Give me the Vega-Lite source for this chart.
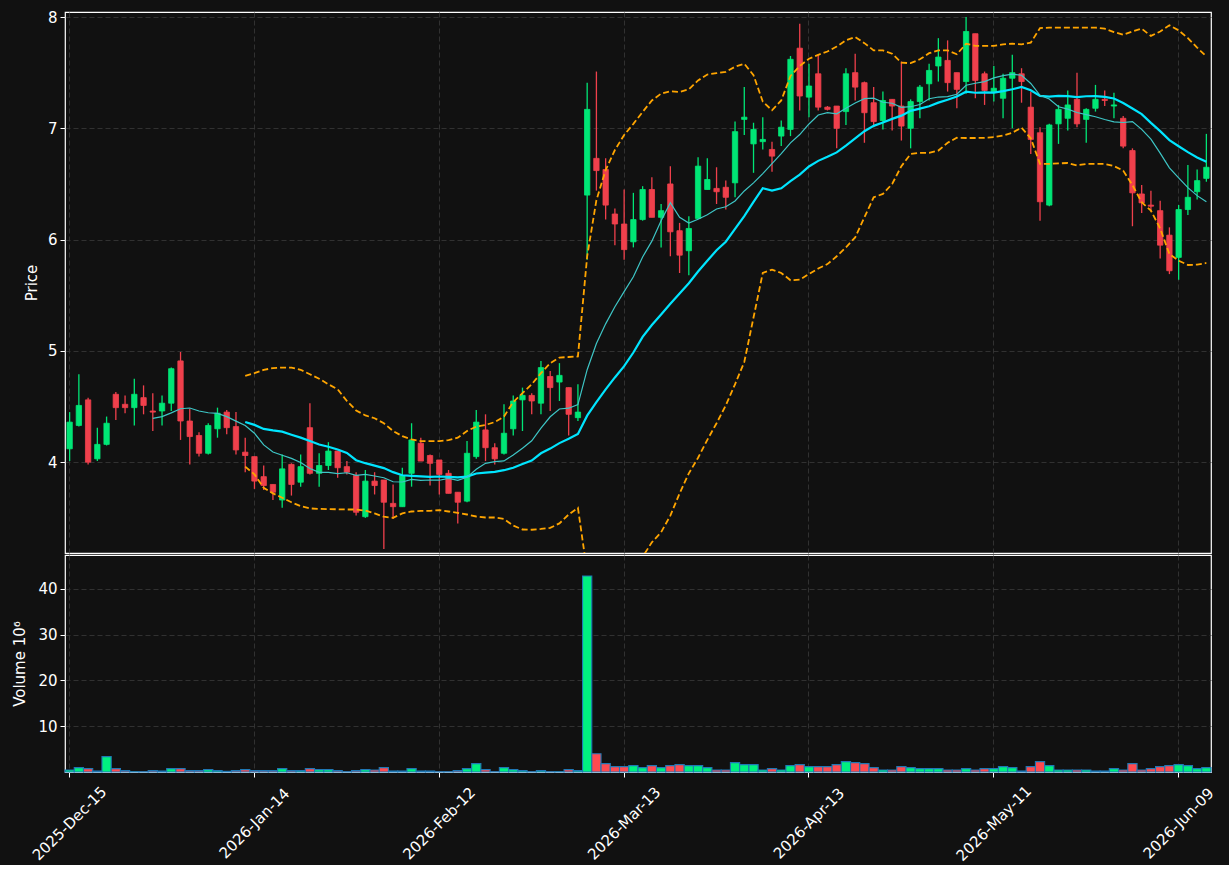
{
"$schema": "https://vega.github.io/schema/vega-lite/v6.json",
"background": "#111111",
"padding": {"left": 11, "top": 9, "right": 17, "bottom": 0},
"datasets": {"ohlc": [
{"d":"2025-12-15","o":4.12,"h":4.45,"l":4.01,"c":4.36,"v":0.44},
{"d":"2025-12-16","o":4.33,"h":4.79,"l":4.32,"c":4.51,"v":0.95},
{"d":"2025-12-17","o":4.56,"h":4.58,"l":3.98,"c":4.0,"v":0.73},
{"d":"2025-12-18","o":4.03,"h":4.31,"l":4.01,"c":4.16,"v":0.22},
{"d":"2025-12-19","o":4.16,"h":4.41,"l":4.15,"c":4.35,"v":3.36},
{"d":"2025-12-22","o":4.61,"h":4.63,"l":4.38,"c":4.49,"v":0.73},
{"d":"2025-12-23","o":4.52,"h":4.6,"l":4.44,"c":4.49,"v":0.29},
{"d":"2025-12-24","o":4.49,"h":4.75,"l":4.33,"c":4.61,"v":0.07},
{"d":"2025-12-26","o":4.58,"h":4.69,"l":4.43,"c":4.51,"v":0.07},
{"d":"2025-12-29","o":4.46,"h":4.62,"l":4.28,"c":4.45,"v":0.29},
{"d":"2025-12-30","o":4.46,"h":4.6,"l":4.33,"c":4.53,"v":0.22},
{"d":"2025-12-31","o":4.53,"h":4.85,"l":4.46,"c":4.84,"v":0.73},
{"d":"2026-01-02","o":4.91,"h":4.99,"l":4.2,"c":4.37,"v":0.73},
{"d":"2026-01-05","o":4.37,"h":4.48,"l":3.98,"c":4.23,"v":0.29},
{"d":"2026-01-06","o":4.24,"h":4.27,"l":4.05,"c":4.08,"v":0.29},
{"d":"2026-01-07","o":4.08,"h":4.35,"l":4.07,"c":4.33,"v":0.51},
{"d":"2026-01-08","o":4.3,"h":4.49,"l":4.22,"c":4.44,"v":0.29},
{"d":"2026-01-09","o":4.45,"h":4.47,"l":4.25,"c":4.31,"v":0.15},
{"d":"2026-01-12","o":4.32,"h":4.45,"l":4.07,"c":4.11,"v":0.29},
{"d":"2026-01-13","o":4.09,"h":4.22,"l":3.91,"c":4.06,"v":0.51,"bu":4.775,"bl":3.96},
{"d":"2026-01-14","o":4.05,"h":4.05,"l":3.76,"c":3.83,"v":0.29,"bu":4.8,"bl":3.89},
{"d":"2026-01-15","o":3.87,"h":3.97,"l":3.75,"c":3.79,"v":0.29,"bu":4.83,"bl":3.77},
{"d":"2026-01-16","o":3.8,"h":3.8,"l":3.66,"c":3.73,"v":0.29,"bu":4.845,"bl":3.72},
{"d":"2026-01-20","o":3.66,"h":4.07,"l":3.59,"c":3.94,"v":0.73,"bu":4.85,"bl":3.68},
{"d":"2026-01-21","o":3.98,"h":3.99,"l":3.7,"c":3.8,"v":0.29,"bu":4.85,"bl":3.64},
{"d":"2026-01-22","o":3.82,"h":4.07,"l":3.78,"c":3.96,"v":0.29,"bu":4.83,"bl":3.605},
{"d":"2026-01-23","o":4.31,"h":4.53,"l":3.89,"c":3.9,"v":0.73,"bu":4.79,"bl":3.585},
{"d":"2026-01-26","o":3.9,"h":4.08,"l":3.78,"c":3.97,"v":0.51,"bu":4.75,"bl":3.58},
{"d":"2026-01-27","o":3.97,"h":4.18,"l":3.93,"c":4.1,"v":0.51,"bu":4.7,"bl":3.578},
{"d":"2026-01-28","o":4.1,"h":4.1,"l":3.86,"c":3.95,"v":0.29,"bu":4.655,"bl":3.577},
{"d":"2026-01-29","o":3.96,"h":4.01,"l":3.89,"c":3.91,"v":0.07,"bu":4.55,"bl":3.575},
{"d":"2026-01-30","o":3.88,"h":3.91,"l":3.52,"c":3.55,"v":0.29,"bu":4.465,"bl":3.575},
{"d":"2026-02-02","o":3.51,"h":3.93,"l":3.5,"c":3.83,"v":0.51,"bu":4.42,"bl":3.565},
{"d":"2026-02-03","o":3.83,"h":3.91,"l":3.71,"c":3.79,"v":0.44,"bu":4.395,"bl":3.54},
{"d":"2026-02-04","o":3.84,"h":3.84,"l":3.22,"c":3.64,"v":0.95,"bu":4.35,"bl":3.51},
{"d":"2026-02-05","o":3.63,"h":3.8,"l":3.49,"c":3.6,"v":0.22,"bu":4.28,"bl":3.5},
{"d":"2026-02-06","o":3.6,"h":3.95,"l":3.6,"c":3.88,"v":0.22,"bu":4.234,"bl":3.54},
{"d":"2026-02-09","o":3.9,"h":4.35,"l":3.78,"c":4.2,"v":0.73,"bu":4.205,"bl":3.557},
{"d":"2026-02-10","o":4.17,"h":4.22,"l":4.01,"c":4.01,"v":0.22,"bu":4.19,"bl":3.563},
{"d":"2026-02-11","o":4.06,"h":4.07,"l":3.79,"c":3.99,"v":0.22,"bu":4.19,"bl":3.563},
{"d":"2026-02-12","o":4.02,"h":4.02,"l":3.71,"c":3.89,"v":0.07,"bu":4.19,"bl":3.57},
{"d":"2026-02-13","o":3.9,"h":3.93,"l":3.72,"c":3.72,"v":0.07,"bu":4.198,"bl":3.557},
{"d":"2026-02-17","o":3.73,"h":3.73,"l":3.45,"c":3.64,"v":0.29,"bu":4.22,"bl":3.545},
{"d":"2026-02-18","o":3.65,"h":4.19,"l":3.64,"c":4.08,"v":0.73,"bu":4.28,"bl":3.53},
{"d":"2026-02-19","o":4.05,"h":4.47,"l":4.03,"c":4.36,"v":1.82,"bu":4.32,"bl":3.512},
{"d":"2026-02-20","o":4.29,"h":4.43,"l":4.01,"c":4.13,"v":0.51,"bu":4.335,"bl":3.503},
{"d":"2026-02-23","o":4.13,"h":4.17,"l":3.98,"c":4.03,"v":0.07,"bu":4.36,"bl":3.503},
{"d":"2026-02-24","o":4.08,"h":4.52,"l":4.07,"c":4.26,"v":0.95,"bu":4.41,"bl":3.49},
{"d":"2026-02-25","o":4.3,"h":4.6,"l":4.24,"c":4.55,"v":0.51,"bu":4.54,"bl":3.43},
{"d":"2026-02-26","o":4.56,"h":4.67,"l":4.28,"c":4.6,"v":0.29,"bu":4.62,"bl":3.395},
{"d":"2026-02-27","o":4.6,"h":4.62,"l":4.43,"c":4.55,"v":0.07,"bu":4.7,"bl":3.393},
{"d":"2026-03-02","o":4.53,"h":4.91,"l":4.43,"c":4.85,"v":0.29,"bu":4.8,"bl":3.4},
{"d":"2026-03-03","o":4.77,"h":4.82,"l":4.46,"c":4.67,"v":0.07,"bu":4.89,"bl":3.41},
{"d":"2026-03-04","o":4.72,"h":4.89,"l":4.55,"c":4.78,"v":0.07,"bu":4.94,"bl":3.45},
{"d":"2026-03-05","o":4.67,"h":4.67,"l":4.24,"c":4.43,"v":0.51,"bu":4.945,"bl":3.53},
{"d":"2026-03-06","o":4.4,"h":4.7,"l":4.37,"c":4.45,"v":0.29,"bu":4.95,"bl":3.59},
{"d":"2026-03-09","o":6.4,"h":7.41,"l":5.82,"c":7.17,"v":42.8,"bu":5.85,"bl":3.01},
{"d":"2026-03-10","o":6.73,"h":7.51,"l":6.44,"c":6.62,"v":4.0,"bu":6.355,"bl":2.78},
{"d":"2026-03-11","o":6.63,"h":6.73,"l":6.18,"c":6.31,"v":1.82,"bu":6.625,"bl":2.72},
{"d":"2026-03-12","o":6.23,"h":6.28,"l":5.95,"c":6.14,"v":1.17,"bu":6.805,"bl":2.75},
{"d":"2026-03-13","o":6.14,"h":6.45,"l":5.82,"c":5.91,"v":1.17,"bu":6.94,"bl":2.82},
{"d":"2026-03-16","o":5.98,"h":6.42,"l":5.93,"c":6.18,"v":1.39,"bu":7.04,"bl":2.97},
{"d":"2026-03-17","o":6.18,"h":6.48,"l":6.17,"c":6.45,"v":0.95,"bu":7.147,"bl":3.15},
{"d":"2026-03-18","o":6.45,"h":6.56,"l":6.2,"c":6.2,"v":1.39,"bu":7.25,"bl":3.28},
{"d":"2026-03-19","o":6.2,"h":6.32,"l":5.93,"c":6.26,"v":0.95,"bu":7.312,"bl":3.37},
{"d":"2026-03-20","o":6.5,"h":6.66,"l":5.85,"c":6.07,"v":1.39,"bu":7.333,"bl":3.52},
{"d":"2026-03-23","o":6.08,"h":6.15,"l":5.7,"c":5.86,"v":1.61,"bu":7.327,"bl":3.72},
{"d":"2026-03-24","o":5.9,"h":6.21,"l":5.68,"c":6.1,"v":1.39,"bu":7.35,"bl":3.9},
{"d":"2026-03-25","o":6.19,"h":6.74,"l":6.19,"c":6.66,"v":1.39,"bu":7.43,"bl":4.04},
{"d":"2026-03-26","o":6.45,"h":6.73,"l":6.45,"c":6.54,"v":0.95,"bu":7.483,"bl":4.2},
{"d":"2026-03-27","o":6.46,"h":6.65,"l":6.32,"c":6.43,"v":0.44,"bu":7.495,"bl":4.35},
{"d":"2026-03-30","o":6.47,"h":6.53,"l":6.27,"c":6.38,"v":0.44,"bu":7.508,"bl":4.51},
{"d":"2026-03-31","o":6.51,"h":7.06,"l":6.38,"c":6.97,"v":2.04,"bu":7.553,"bl":4.7},
{"d":"2026-04-01","o":7.08,"h":7.37,"l":6.94,"c":7.1,"v":1.61,"bu":7.58,"bl":4.9},
{"d":"2026-04-02","o":6.86,"h":7.05,"l":6.6,"c":6.99,"v":1.61,"bu":7.477,"bl":5.3},
{"d":"2026-04-06","o":6.88,"h":7.1,"l":6.81,"c":6.9,"v":0.44,"bu":7.24,"bl":5.7},
{"d":"2026-04-07","o":6.81,"h":6.88,"l":6.61,"c":6.75,"v":0.73,"bu":7.162,"bl":5.73},
{"d":"2026-04-08","o":6.93,"h":7.07,"l":6.84,"c":7.01,"v":0.44,"bu":7.25,"bl":5.7},
{"d":"2026-04-09","o":6.99,"h":7.65,"l":6.93,"c":7.62,"v":1.39,"bu":7.47,"bl":5.635},
{"d":"2026-04-10","o":7.72,"h":7.94,"l":7.16,"c":7.29,"v":1.61,"bu":7.56,"bl":5.64},
{"d":"2026-04-13","o":7.28,"h":7.58,"l":7.1,"c":7.38,"v":1.17,"bu":7.625,"bl":5.69},
{"d":"2026-04-14","o":7.49,"h":7.66,"l":7.16,"c":7.19,"v":1.17,"bu":7.66,"bl":5.74},
{"d":"2026-04-15","o":7.19,"h":7.2,"l":7.16,"c":7.17,"v":1.17,"bu":7.69,"bl":5.78},
{"d":"2026-04-16","o":7.2,"h":7.2,"l":6.82,"c":7.0,"v":1.61,"bu":7.735,"bl":5.85},
{"d":"2026-04-17","o":7.15,"h":7.54,"l":7.03,"c":7.49,"v":2.26,"bu":7.79,"bl":5.93},
{"d":"2026-04-20","o":7.5,"h":7.67,"l":7.25,"c":7.37,"v":2.04,"bu":7.82,"bl":6.02},
{"d":"2026-04-21","o":7.41,"h":7.42,"l":6.87,"c":7.14,"v":1.82,"bu":7.765,"bl":6.2},
{"d":"2026-04-22","o":7.23,"h":7.37,"l":7.01,"c":7.06,"v":0.95,"bu":7.7,"bl":6.38},
{"d":"2026-04-23","o":7.07,"h":7.33,"l":6.99,"c":7.25,"v":0.44,"bu":7.7,"bl":6.41},
{"d":"2026-04-24","o":7.26,"h":7.26,"l":6.98,"c":7.2,"v":0.44,"bu":7.67,"bl":6.5},
{"d":"2026-04-27","o":7.2,"h":7.6,"l":6.89,"c":7.02,"v":1.17,"bu":7.59,"bl":6.66},
{"d":"2026-04-28","o":7.0,"h":7.26,"l":6.82,"c":7.24,"v":0.95,"bu":7.585,"bl":6.77},
{"d":"2026-04-29","o":7.24,"h":7.39,"l":7.09,"c":7.37,"v":0.73,"bu":7.62,"bl":6.78},
{"d":"2026-04-30","o":7.4,"h":7.58,"l":7.25,"c":7.52,"v":0.73,"bu":7.675,"bl":6.78},
{"d":"2026-05-01","o":7.56,"h":7.81,"l":7.42,"c":7.64,"v":0.73,"bu":7.7,"bl":6.8},
{"d":"2026-05-04","o":7.61,"h":7.79,"l":7.33,"c":7.41,"v":0.44,"bu":7.7,"bl":6.87},
{"d":"2026-05-05","o":7.5,"h":7.5,"l":7.18,"c":7.35,"v":0.44,"bu":7.665,"bl":6.915},
{"d":"2026-05-06","o":7.42,"h":8.0,"l":7.31,"c":7.87,"v":0.73,"bu":7.76,"bl":6.913},
{"d":"2026-05-07","o":7.85,"h":7.85,"l":7.27,"c":7.43,"v":0.44,"bu":7.74,"bl":6.913},
{"d":"2026-05-08","o":7.49,"h":7.51,"l":7.21,"c":7.34,"v":0.73,"bu":7.74,"bl":6.915},
{"d":"2026-05-11","o":7.33,"h":7.56,"l":7.24,"c":7.36,"v":0.73,"bu":7.74,"bl":6.92},
{"d":"2026-05-12","o":7.27,"h":7.49,"l":7.09,"c":7.45,"v":1.17,"bu":7.755,"bl":6.935},
{"d":"2026-05-13","o":7.45,"h":7.66,"l":7.0,"c":7.5,"v":0.95,"bu":7.76,"bl":6.96},
{"d":"2026-05-14","o":7.49,"h":7.54,"l":7.23,"c":7.42,"v":0.22,"bu":7.755,"bl":7.006},
{"d":"2026-05-15","o":7.19,"h":7.33,"l":6.77,"c":6.9,"v":1.17,"bu":7.77,"bl":6.91},
{"d":"2026-05-18","o":6.96,"h":7.01,"l":6.17,"c":6.34,"v":2.26,"bu":7.9,"bl":6.68},
{"d":"2026-05-19","o":6.31,"h":7.04,"l":6.3,"c":7.03,"v":1.39,"bu":7.905,"bl":6.68},
{"d":"2026-05-20","o":7.04,"h":7.21,"l":6.86,"c":7.17,"v":0.44,"bu":7.905,"bl":6.685},
{"d":"2026-05-21","o":7.09,"h":7.34,"l":6.98,"c":7.21,"v":0.44,"bu":7.905,"bl":6.688},
{"d":"2026-05-22","o":7.26,"h":7.5,"l":7.01,"c":7.04,"v":0.44,"bu":7.905,"bl":6.667},
{"d":"2026-05-26","o":7.08,"h":7.18,"l":6.87,"c":7.17,"v":0.44,"bu":7.905,"bl":6.68},
{"d":"2026-05-27","o":7.18,"h":7.39,"l":7.15,"c":7.26,"v":0.22,"bu":7.905,"bl":6.68},
{"d":"2026-05-28","o":7.26,"h":7.34,"l":7.2,"c":7.25,"v":0.22,"bu":7.895,"bl":6.68},
{"d":"2026-05-29","o":7.2,"h":7.32,"l":7.09,"c":7.21,"v":0.73,"bu":7.865,"bl":6.66},
{"d":"2026-06-01","o":7.09,"h":7.11,"l":6.82,"c":6.84,"v":0.44,"bu":7.84,"bl":6.62},
{"d":"2026-06-02","o":6.8,"h":6.82,"l":6.12,"c":6.42,"v":1.82,"bu":7.87,"bl":6.49},
{"d":"2026-06-03","o":6.41,"h":6.49,"l":6.24,"c":6.33,"v":0.44,"bu":7.895,"bl":6.336},
{"d":"2026-06-04","o":6.31,"h":6.44,"l":6.25,"c":6.3,"v":0.73,"bu":7.83,"bl":6.26},
{"d":"2026-06-05","o":6.26,"h":6.35,"l":5.83,"c":5.95,"v":1.17,"bu":7.87,"bl":6.1},
{"d":"2026-06-08","o":6.04,"h":6.11,"l":5.69,"c":5.72,"v":1.39,"bu":7.925,"bl":5.87},
{"d":"2026-06-09","o":5.84,"h":6.31,"l":5.64,"c":6.27,"v":1.61,"bu":7.88,"bl":5.81},
{"d":"2026-06-10","o":6.27,"h":6.67,"l":6.22,"c":6.38,"v":1.39,"bu":7.81,"bl":5.772},
{"d":"2026-06-11","o":6.43,"h":6.63,"l":6.36,"c":6.53,"v":0.73,"bu":7.725,"bl":5.775},
{"d":"2026-06-12","o":6.55,"h":6.95,"l":6.52,"c":6.65,"v":0.95,"bu":7.645,"bl":5.79}
]},
"data": {"name": "ohlc"},
"config": {
  "view": {"stroke": "#ffffff", "strokeWidth": 1.2, "fill": "#111111"},
  "axis": {"labelColor": "#ffffff", "titleColor": "#ffffff", "tickColor": "#ffffff", "labelFont": "DejaVu Sans", "titleFont": "DejaVu Sans", "labelFontSize": 15, "titleFontSize": 15, "titleFontWeight": "normal", "gridColor": "#3a3a3a", "gridDash": [5, 3], "gridWidth": 0.8, "domain": false, "tickSize": 5, "tickWidth": 1},
  "concat": {"spacing": 0}
},
"vconcat": [
{
  "width": 1146, "height": 541,
  "encoding": {
    "x": {"field": "d", "type": "ordinal", "scale": {"paddingInner": 0, "paddingOuter": 0},
      "axis": {"values": ["2025-12-15","2026-01-14","2026-02-12","2026-03-13","2026-04-13","2026-05-11","2026-06-09"], "labels": false, "ticks": false, "title": null, "grid": true, "bandPosition": 0.5}}
  },
  "layer": [
    {"mark": {"type": "rule", "strokeWidth": 1.3},
     "encoding": {
       "y": {"field": "l", "type": "quantitative", "scale": {"domain": [3.184, 8.045], "zero": false, "nice": false},
         "axis": {"values": [4,5,6,7,8], "format": "d", "title": "Price", "grid": true, "titleX": -34, "titleY": 270.5, "titleAngle": -90, "titleAlign": "center", "titleBaseline": "middle", "labelPadding": 3}},
       "y2": {"field": "h"},
       "color": {"condition": {"test": "datum.c >= datum.o", "value": "#00e676"}, "value": "#f0404c"}
     }},
    {"mark": {"type": "bar", "width": {"band": 0.58}, "strokeWidth": 0.8},
     "encoding": {
       "y": {"field": "o", "type": "quantitative"},
       "y2": {"field": "c"},
       "fill": {"condition": {"test": "datum.c >= datum.o", "value": "#00e676"}, "value": "#f0404c"},
       "stroke": {"condition": {"test": "datum.c >= datum.o", "value": "#00e676"}, "value": "#f0404c"}
     }},
    {"mark": {"type": "line", "color": "#ffa500", "strokeWidth": 1.8, "strokeDash": [6, 3], "clip": true},
     "encoding": {"y": {"field": "bu", "type": "quantitative"}}},
    {"mark": {"type": "line", "color": "#ffa500", "strokeWidth": 1.8, "strokeDash": [6, 3], "clip": true},
     "encoding": {"y": {"field": "bl", "type": "quantitative"}}},
    {"transform": [
       {"window": [{"op": "mean", "field": "c", "as": "ma20"}, {"op": "count", "as": "n20"}], "frame": [-19, 0], "sort": [{"field": "d"}]},
       {"filter": "datum.n20 >= 20"}],
     "mark": {"type": "line", "color": "#00e5ff", "strokeWidth": 2.2, "clip": true},
     "encoding": {"y": {"field": "ma20", "type": "quantitative"}}},
    {"transform": [
       {"window": [{"op": "mean", "field": "c", "as": "ma10"}, {"op": "count", "as": "n10"}], "frame": [-9, 0], "sort": [{"field": "d"}]},
       {"filter": "datum.n10 >= 10"}],
     "mark": {"type": "line", "color": "#3ec6c6", "strokeWidth": 1.2, "clip": true},
     "encoding": {"y": {"field": "ma10", "type": "quantitative"}}}
  ]
},
{
  "width": 1146, "height": 217,
  "mark": {"type": "bar", "width": {"band": 1}, "stroke": "#1f77b4", "strokeWidth": 1.1},
  "encoding": {
    "x": {"field": "d", "type": "ordinal", "scale": {"paddingInner": 0, "paddingOuter": 0},
      "axis": {"values": ["2025-12-15","2026-01-14","2026-02-12","2026-03-13","2026-04-13","2026-05-11","2026-06-09"],
        "labelExpr": "utcFormat(toDate(datum.value), '%Y-%b-%d')", "labelAngle": -45, "labelAlign": "center", "labelBaseline": "middle", "labelPadding": 46, "title": null, "grid": true, "bandPosition": 0.5}},
    "y": {"field": "v", "type": "quantitative", "scale": {"domain": [0, 47.4], "nice": false},
      "axis": {"values": [10, 20, 30, 40], "title": "Volume  10⁶", "grid": true, "titleX": -46, "titleY": 108.5, "titleAngle": -90, "titleAlign": "center", "titleBaseline": "middle", "labelPadding": 3}},
    "fill": {"condition": {"test": "datum.c >= datum.o", "value": "#00f080"}, "value": "#ff4a50"}
  }
}
]
}
